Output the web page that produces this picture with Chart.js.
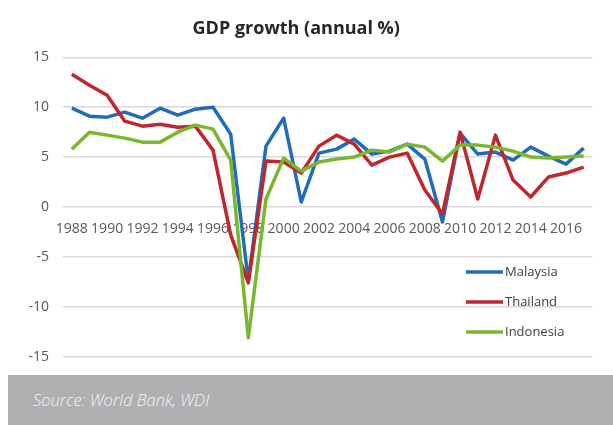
<!DOCTYPE html>
<html>
<head>
<meta charset="utf-8">
<script src="https://cdn.jsdelivr.net/npm/chart.js@4.4.1/dist/chart.umd.min.js"></script>
<style>
  html, body { margin: 0; padding: 0; background: #fff; }
  #wrap { position: relative; width: 613px; height: 375px; }
  #source {
    position: absolute; left: 8px; top: 375px; width: 605px; height: 50px;
    background: #b0b0b2; color: #f4f4f4;
    font: italic 300 16.5px "Open Sans", sans-serif;
    box-sizing: border-box; padding: 13px 0 0 25px;
  }
</style>
</head>
<body>
<div id="wrap"><canvas id="gdp" width="613" height="375"></canvas></div>
<div id="source">Source: World Bank, WDI</div>
<script>
const years = [1988, 1989, 1990, 1991, 1992, 1993, 1994, 1995, 1996, 1997,
  1998, 1999, 2000, 2001, 2002, 2003, 2004, 2005, 2006, 2007,
  2008, 2009, 2010, 2011, 2012, 2013, 2014, 2015, 2016, 2017];

const malaysia = [9.9, 9.1, 9.0, 9.5, 8.9, 9.9, 9.2, 9.8, 10.0, 7.3,
  -7.4, 6.1, 8.9, 0.5, 5.4, 5.8, 6.8, 5.3, 5.6, 6.3,
  4.8, -1.5, 7.4, 5.3, 5.5, 4.7, 6.0, 5.1, 4.3, 5.9];

const thailand = [13.3, 12.2, 11.2, 8.6, 8.1, 8.3, 8.0, 8.1, 5.7, -2.8,
  -7.6, 4.6, 4.5, 3.4, 6.1, 7.2, 6.3, 4.2, 5.0, 5.4,
  1.7, -0.7, 7.5, 0.8, 7.2, 2.7, 1.0, 3.0, 3.4, 4.0];

const indonesia = [5.8, 7.5, 7.2, 6.9, 6.5, 6.5, 7.5, 8.2, 7.8, 4.7,
  -13.1, 0.8, 4.9, 3.6, 4.5, 4.8, 5.0, 5.7, 5.5, 6.3,
  6.0, 4.6, 6.2, 6.2, 6.0, 5.6, 5.0, 4.9, 5.0, 5.1];

const yTicks = [-15, -10, -5, 0, 5, 10, 15];

// legend drawn inside the plot, bottom right
const insideLegend = {
  id: 'insideLegend',
  afterDraw(chart) {
    const c = chart.ctx;
    c.save();
    c.font = '13px "Open Sans", sans-serif';
    c.textBaseline = 'middle';
    chart.data.datasets.forEach((ds, i) => {
      const y = 272 + i * 30;
      c.strokeStyle = ds.borderColor;
      c.lineWidth = 3.5;
      c.beginPath();
      c.moveTo(466, y);
      c.lineTo(503, y);
      c.stroke();
      c.fillStyle = '#404040';
      c.fillText(ds.label, 505, y);
    });
    c.restore();
  }
};

new Chart(document.getElementById('gdp'), {
  type: 'line',
  data: {
    labels: years,
    datasets: [
      { label: 'Malaysia', data: malaysia, borderColor: '#1f6cbf', order: 2 },
      { label: 'Thailand', data: thailand, borderColor: '#c0272d', order: 1 },
      { label: 'Indonesia', data: indonesia, borderColor: '#7ab72e', order: 0 }
    ]
  },
  options: {
    responsive: false,
    animation: false,
    datasets: {
      line: { borderWidth: 3.5, pointRadius: 0, tension: 0, borderJoinStyle: 'round' }
    },
    layout: { padding: { top: 0, right: 20.5, bottom: 18.3, left: 0 } },
    plugins: {
      legend: { display: false },
      tooltip: { enabled: false },
      title: {
        display: true,
        text: 'GDP growth (annual %)',
        color: '#262626',
        font: { family: '"Open Sans", sans-serif', size: 18, weight: 'bold' },
        padding: { top: 18, bottom: 17.7 }
      }
    },
    scales: {
      x: {
        type: 'category',
        position: { y: 0 },
        offset: true,
        afterFit(scale) { scale.height = 0; scale.paddingLeft = 0; scale.paddingRight = 0; },
        grid: { display: false },
        border: { display: false },
        ticks: {
          autoSkip: false,
          maxRotation: 0,
          padding: 6,
          color: '#595959',
          font: { family: '"Open Sans", sans-serif', size: 14 },
          callback: function (v, i) { return i % 2 === 0 ? this.getLabelForValue(v) : ''; }
        }
      },
      y: {
        min: -15,
        max: 15,
        afterFit(scale) { scale.width = 63; scale.paddingTop = 0; scale.paddingBottom = 0; },
        afterBuildTicks(scale) { scale.ticks = yTicks.map(v => ({ value: v })); },
        grid: { color: '#d9d9d9', lineWidth: 1.5, drawTicks: false },
        border: { display: false },
        ticks: {
          padding: 14,
          color: '#595959',
          font: { family: '"Open Sans", sans-serif', size: 14 }
        }
      }
    }
  },
  plugins: [insideLegend]
});
</script>
</body>
</html>
